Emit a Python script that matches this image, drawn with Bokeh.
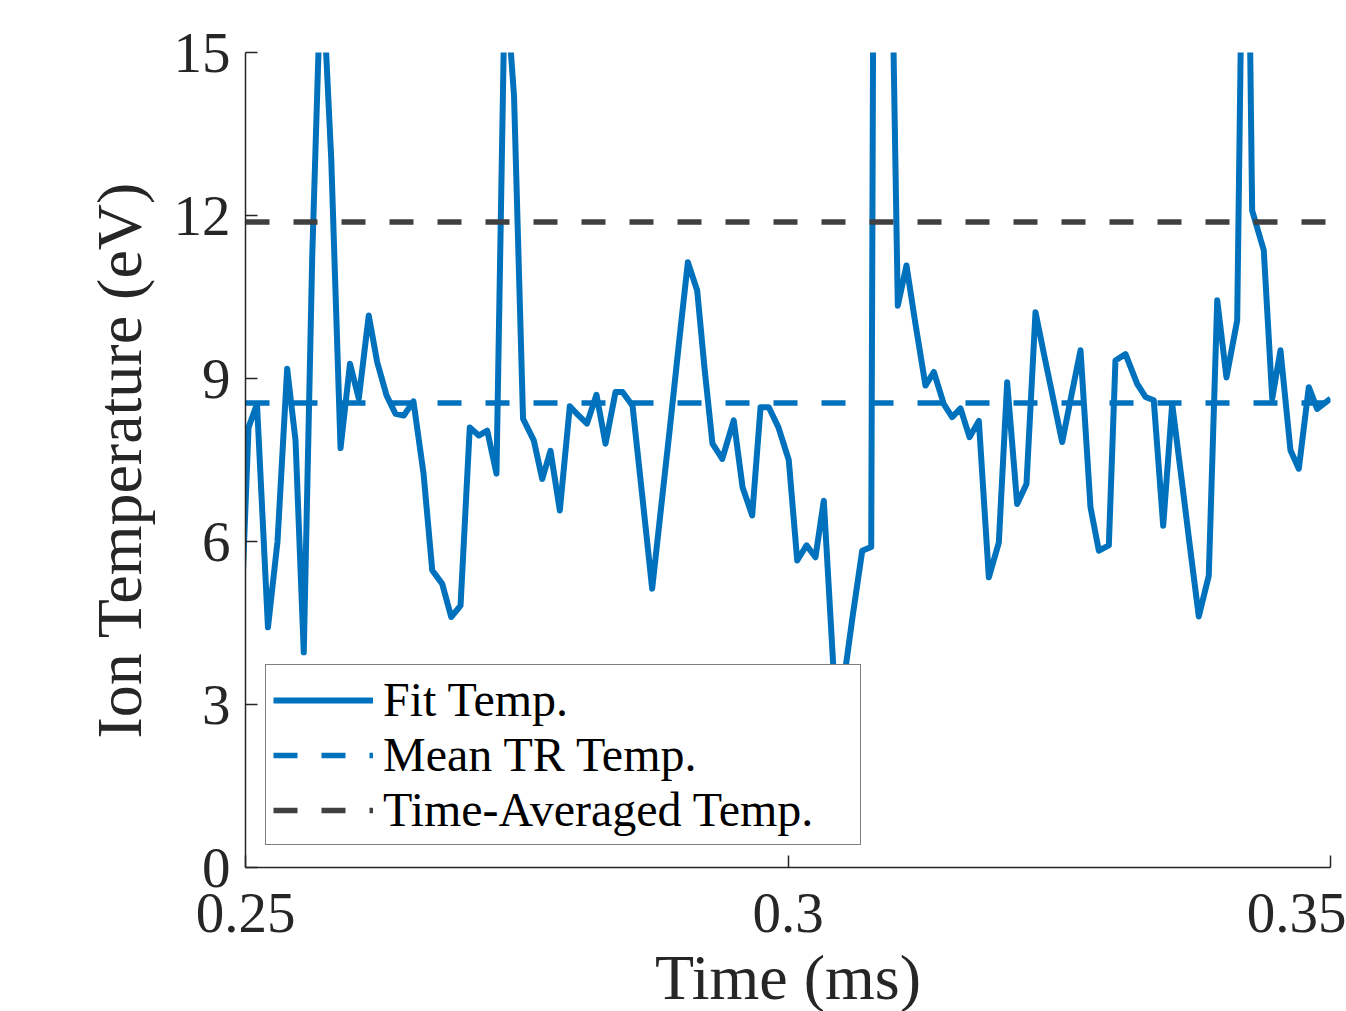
from bokeh.plotting import figure
from bokeh.models import FixedTicker, Legend, LegendItem
from bokeh.embed import file_html
from bokeh.resources import INLINE

# ---- data ----
time_ms = [
    0.24945, 0.25028, 0.25106, 0.25207, 0.25295, 0.25384, 0.25461, 0.25537,
    0.25615, 0.25700, 0.25790, 0.25876, 0.25963, 0.26044, 0.26136, 0.26214,
    0.26300, 0.26382, 0.26459, 0.26548, 0.26641, 0.26721, 0.26813, 0.26896,
    0.26982, 0.27067, 0.27150, 0.27228, 0.27313, 0.27392, 0.27475, 0.27558,
    0.27657, 0.27735, 0.27811, 0.27897, 0.27989, 0.28069, 0.28147, 0.28235,
    0.28318, 0.28410, 0.28475, 0.28567, 0.28659, 0.28748, 0.28829, 0.28912,
    0.28995, 0.29077, 0.29163, 0.29230, 0.29304, 0.29394, 0.29500, 0.29581,
    0.29670, 0.29747, 0.29823, 0.29912, 0.30007, 0.30085, 0.30171, 0.30253,
    0.30330, 0.30429, 0.30512, 0.30594, 0.30684, 0.30767, 0.30848, 0.30931,
    0.31012, 0.31092, 0.31175, 0.31267, 0.31344, 0.31436, 0.31513, 0.31590,
    0.31673, 0.31759, 0.31851, 0.31943, 0.32020, 0.32112, 0.32198, 0.32281,
    0.32364, 0.32447, 0.32527, 0.32613, 0.32696, 0.32788, 0.32865, 0.32957,
    0.33018, 0.33111, 0.33218, 0.33295, 0.33371, 0.33458, 0.33541, 0.33624,
    0.33703, 0.33786, 0.33878, 0.33956, 0.34041, 0.34140, 0.34217, 0.34278,
    0.34385, 0.34463, 0.34539, 0.34631, 0.34708, 0.34800, 0.34877, 0.35000,
]
ion_temp_ev = [
    3.80, 8.10, 8.53, 4.42, 6.00, 9.18, 7.86, 3.96,
    11.25, 16.80, 13.05, 7.72, 9.27, 8.63, 10.16, 9.30,
    8.69, 8.35, 8.32, 8.58, 7.25, 5.47, 5.22, 4.61,
    4.82, 8.10, 7.95, 8.04, 7.25, 16.50, 14.20, 8.26,
    7.86, 7.15, 7.67, 6.57, 8.49, 8.32, 8.17, 8.70,
    7.80, 8.75, 8.75, 8.50, 6.80, 5.13, 6.60, 8.10,
    9.65, 11.14, 10.62, 9.20, 7.80, 7.52, 8.23, 7.00,
    6.48, 8.47, 8.47, 8.10, 7.50, 5.65, 5.93, 5.71,
    6.75, 3.30, 3.40, 4.60, 5.83, 5.90, 50.00, 20.00,
    10.34, 11.08, 10.00, 8.87, 9.12, 8.53, 8.29, 8.45,
    7.92, 8.22, 5.34, 5.98, 8.93, 6.69, 7.06, 10.22,
    9.40, 8.60, 7.83, 8.70, 9.52, 6.63, 5.83, 5.93,
    9.33, 9.45, 8.90, 8.66, 8.60, 6.29, 8.53, 7.21,
    5.93, 4.62, 5.37, 10.44, 9.02, 10.07, 22.00, 12.09,
    11.36, 8.63, 9.52, 7.68, 7.34, 8.84, 8.44, 8.63,
]
mean_tr_temp = 8.55
time_avg_temp = 11.88
x_limits = [0.25, 0.35]
y_limits = [0, 15]
x_ticks = [0.25, 0.3, 0.35]
x_tick_labels = ["0.25", "0.3", "0.35"]
y_ticks = [0, 3, 6, 9, 12, 15]
series_labels = ["Fit Temp.", "Mean TR Temp.", "Time-Averaged Temp."]
x_title = "Time (ms)"
y_title = "Ion Temperature (eV)"

BLUE = "#0072BD"
GRAY = "#404040"
AXC = "#262626"
FONT = "Liberation Serif"

p = figure(frame_width=1085, frame_height=815,
           x_range=(x_limits[0], x_limits[1]), y_range=(y_limits[0], y_limits[1]),
           output_backend="svg", toolbar_location=None,
           min_border_left=245, min_border_right=16,
           min_border_top=52, min_border_bottom=100)
p.xgrid.visible = False
p.ygrid.visible = False
p.outline_line_color = None
p.background_fill_color = "white"
p.border_fill_color = "white"

r_fit = p.line(time_ms, ion_temp_ev, line_color=BLUE, line_width=6,
               line_join="round")
r_mean = p.line(x_limits, [mean_tr_temp, mean_tr_temp], line_color=BLUE,
                line_width=5.5, line_dash="24 24")
r_avg = p.line(x_limits, [time_avg_temp, time_avg_temp], line_color=GRAY,
               line_width=5.5, line_dash="24 24")

p.xaxis.ticker = FixedTicker(ticks=x_ticks)
p.xaxis.major_label_overrides = {t: s for t, s in zip(x_ticks, x_tick_labels)}
p.yaxis.ticker = FixedTicker(ticks=y_ticks)
p.xaxis.axis_label = x_title
p.yaxis.axis_label = y_title

for ax in (p.xaxis[0], p.yaxis[0]):
    ax.axis_line_color = AXC
    ax.axis_line_width = 1.5
    ax.major_tick_line_color = AXC
    ax.major_tick_line_width = 1.5
    ax.major_tick_in = 12
    ax.major_tick_out = 0
    ax.minor_tick_line_color = None
    ax.major_label_text_font = FONT
    ax.major_label_text_font_size = "57px"
    ax.major_label_text_color = AXC
    ax.axis_label_text_font = FONT
    ax.axis_label_text_font_size = "64px"
    ax.axis_label_text_font_style = "normal"
    ax.axis_label_text_color = AXC

p.xaxis[0].major_label_standoff = 26
p.xaxis[0].axis_label_standoff = 7
p.yaxis[0].major_label_standoff = 15
p.yaxis[0].axis_label_standoff = 16

legend = Legend(
    items=[LegendItem(label=series_labels[0], renderers=[r_fit]),
           LegendItem(label=series_labels[1], renderers=[r_mean]),
           LegendItem(label=series_labels[2], renderers=[r_avg])],
    location=(20, 22), margin=0, padding=7, spacing=0,
    glyph_width=100, glyph_height=50, label_height=50, label_width=470,
    label_standoff=10,
    label_text_font=FONT, label_text_font_size="48px", label_text_color="black",
    border_line_color="black", border_line_width=1.2,
    background_fill_color="white", background_fill_alpha=1.0,
)
p.add_layout(legend)

open("out.html", "w").write(file_html(p, INLINE))
